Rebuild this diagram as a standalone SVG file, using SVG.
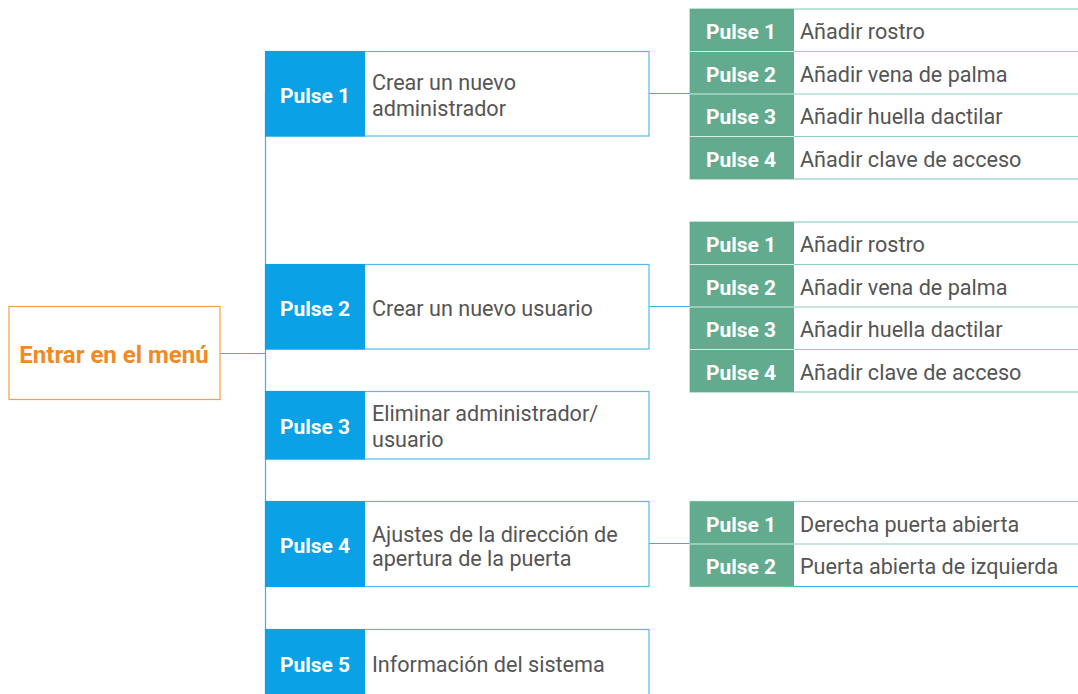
<svg xmlns="http://www.w3.org/2000/svg" width="1078" height="694" viewBox="0 0 1078 694">
<style>
.bg{fill:#ffffff}
.root{fill:#ffffff;stroke:#f5a040;stroke-width:1.2}
.roott{font-family:Roboto,"Liberation Sans",sans-serif;font-weight:bold;font-size:24px;fill:#f28a24;text-anchor:middle}
.lab{fill:#0aa1e6}
.box{fill:#ffffff;stroke:#55b9ee;stroke-width:1.2}
.glab{fill:#62ab8e}
.gbox{fill:#ffffff;stroke:#8fd0b6;stroke-width:1.2}
.gsep{stroke:#d6eee4;stroke-width:1.2}
.pt{font-family:Roboto,"Liberation Sans",sans-serif;font-weight:bold;font-size:21px;fill:#ffffff;text-anchor:middle}
.tt{font-family:Roboto,"Liberation Sans",sans-serif;font-size:21.6px;fill:#555555}
.conn{stroke:#3aaee8;stroke-width:1.2;fill:none}
</style>
<rect class="bg" x="0" y="0" width="1078" height="694"/>
<g id="connectors">
<line class="conn" x1="265.5" y1="94" x2="265.5" y2="694"/>
<line class="conn" x1="220" y1="353.5" x2="265.5" y2="353.5"/>
<line class="conn" x1="649" y1="93.5" x2="690" y2="93.5"/>
<line class="conn" x1="649" y1="306.5" x2="690" y2="306.5"/>
<line class="conn" x1="649" y1="543.5" x2="690" y2="543.5"/>
</g>
<g id="root">
<rect class="root" x="9" y="306.5" width="211" height="93"/>
<text class="roott" x="114" y="362.5">Entrar en el menú</text>
</g>
<g id="p1">
<rect class="box" x="265.5" y="51.5" width="383.5" height="84.5"/>
<rect class="lab" x="265" y="51" width="100" height="85.5"/>
<text class="pt" x="315" y="103">Pulse 1</text>
<text class="tt" x="372" y="90">Crear un nuevo</text>
<text class="tt" x="372" y="115.5">administrador</text>
</g>
<g id="p2">
<rect class="box" x="265.5" y="264.5" width="383.5" height="84.5"/>
<rect class="lab" x="265" y="264" width="100" height="85.5"/>
<text class="pt" x="315" y="315.5">Pulse 2</text>
<text class="tt" x="372" y="315.5">Crear un nuevo usuario</text>
</g>
<g id="p3">
<rect class="box" x="265.5" y="391.5" width="383.5" height="67.5"/>
<rect class="lab" x="265" y="391" width="100" height="68.5"/>
<text class="pt" x="315" y="434">Pulse 3</text>
<text class="tt" x="372" y="421">Eliminar administrador/</text>
<text class="tt" x="372" y="446.5">usuario</text>
</g>
<g id="p4">
<rect class="box" x="265.5" y="501.5" width="383.5" height="85"/>
<rect class="lab" x="265" y="501" width="100" height="86"/>
<text class="pt" x="315" y="552.5">Pulse 4</text>
<text class="tt" x="372" y="541.5">Ajustes de la dirección de</text>
<text class="tt" x="372" y="566">apertura de la puerta</text>
</g>
<g id="p5">
<rect class="box" x="265.5" y="629.5" width="383.5" height="80"/>
<rect class="lab" x="265" y="629" width="100" height="81"/>
<text class="pt" x="315" y="672">Pulse 5</text>
<text class="tt" x="372" y="672">Información del sistema</text>
</g>
<g id="g1">
<rect class="gbox" x="690" y="9" width="395" height="170"/>
<rect class="glab" x="690" y="9" width="104" height="170"/>
<line class="gsep" x1="690" y1="51.5" x2="794" y2="51.5"/>
<line class="gsep" x1="690" y1="94" x2="794" y2="94"/>
<line class="gsep" x1="690" y1="136.5" x2="794" y2="136.5"/>
<line class="gbox" x1="794" y1="51.5" x2="1078" y2="51.5"/>
<line class="gbox" x1="794" y1="94" x2="1078" y2="94"/>
<line class="gbox" x1="794" y1="136.5" x2="1078" y2="136.5"/>
<text class="pt" x="741" y="39">Pulse 1</text>
<text class="pt" x="741" y="81.5">Pulse 2</text>
<text class="pt" x="741" y="124">Pulse 3</text>
<text class="pt" x="741" y="166.5">Pulse 4</text>
<text class="tt" x="800" y="39">Añadir rostro</text>
<text class="tt" x="800" y="81.5">Añadir vena de palma</text>
<text class="tt" x="800" y="124">Añadir huella dactilar</text>
<text class="tt" x="800" y="166.5">Añadir clave de acceso</text>
</g>
<g id="g2">
<rect class="gbox" x="690" y="222" width="395" height="170"/>
<rect class="glab" x="690" y="222" width="104" height="170"/>
<line class="gsep" x1="690" y1="264.5" x2="794" y2="264.5"/>
<line class="gsep" x1="690" y1="307" x2="794" y2="307"/>
<line class="gsep" x1="690" y1="349.5" x2="794" y2="349.5"/>
<line class="gbox" x1="794" y1="264.5" x2="1078" y2="264.5"/>
<line class="gbox" x1="794" y1="307" x2="1078" y2="307"/>
<line class="gbox" x1="794" y1="349.5" x2="1078" y2="349.5"/>
<text class="pt" x="741" y="252">Pulse 1</text>
<text class="pt" x="741" y="294.5">Pulse 2</text>
<text class="pt" x="741" y="337">Pulse 3</text>
<text class="pt" x="741" y="379.5">Pulse 4</text>
<text class="tt" x="800" y="252">Añadir rostro</text>
<text class="tt" x="800" y="294.5">Añadir vena de palma</text>
<text class="tt" x="800" y="337">Añadir huella dactilar</text>
<text class="tt" x="800" y="379.5">Añadir clave de acceso</text>
</g>
<g id="g3">
<rect class="gbox" x="690" y="501.5" width="395" height="85"/>
<rect class="glab" x="690" y="501.5" width="104" height="85"/>
<line class="gsep" x1="690" y1="544" x2="794" y2="544"/>
<line class="gbox" x1="794" y1="544" x2="1078" y2="544"/>
<line class="conn" x1="794" y1="586.5" x2="1078" y2="586.5"/>
<text class="pt" x="741" y="531.5">Pulse 1</text>
<text class="pt" x="741" y="574">Pulse 2</text>
<text class="tt" x="800" y="531.5">Derecha puerta abierta</text>
<text class="tt" x="800" y="574">Puerta abierta de izquierda</text>
</g>
</svg>
